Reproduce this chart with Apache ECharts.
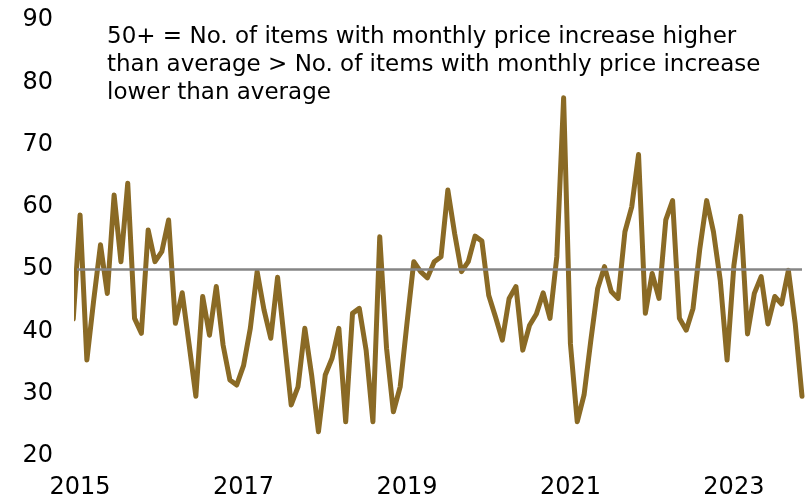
<!DOCTYPE html>
<html>
<head>
<meta charset="utf-8">
<script src="https://cdn.jsdelivr.net/npm/echarts@6/dist/echarts.min.js"></script>
<style>html,body{margin:0;padding:0;background:#fff}#c{width:811px;height:500px}</style>
</head>
<body>
<div id="c"></div>
<script>
// Month offsets from Jan 2015 (-1 = Dec 2014, partially visible at left edge)
const monthIndex = [];
for (let i = -1; i <= 106; i++) monthIndex.push(i);

// Index values (Dec 2014 .. Nov 2023)
const values = [
  42,
  58.7, 35.4, 45, 53.9, 46.1, 61.9, 51.2, 63.8, 42.1, 39.7, 56.3, 51.2,
  52.8, 57.9, 41.3, 46.2, 38, 29.6, 45.6, 39.4, 47.2, 37.8, 32.2, 31.4,
  34.5, 40.5, 49.6, 43.5, 38.9, 48.7, 38.5, 28.2, 31.1, 40.5, 33, 23.9,
  33, 35.7, 40.5, 25.5, 42.9, 43.7, 37, 25.5, 55.2, 37.3, 27.1, 31.1,
  41.3, 51.2, 49.6, 48.6, 51.2, 52, 62.7, 55.7, 49.6, 51.2, 55.3, 54.5,
  45.8, 42.3, 38.6, 45.3, 47.2, 37, 41, 42.8, 46.2, 42.1, 52, 77.5,
  38, 25.5, 29.8, 38.6, 46.9, 50.4, 46.4, 45.3, 56, 60, 68.4, 42.9,
  49.3, 45.3, 57.9, 61, 42.1, 40.2, 43.7, 53.3, 61, 56, 48.2, 35.4,
  50.6, 58.5, 39.6, 46.1, 48.8, 41.2, 45.6, 44.4, 49.8, 41.3, 29.6
];

const tickMonths = [0, 24, 48, 72, 96];
const tickLabels = ['2015', '2017', '2019', '2021', '2023'];
const referenceLevel = 50;
const noteText = '50+ = No. of items with monthly price increase higher\nthan average > No. of items with monthly price increase\nlower than average';

const seriesData = monthIndex.map((m, k) => [m, values[k]]);

const chart = echarts.init(document.getElementById('c'), null, {renderer: 'canvas'});
const font = 'DejaVu Sans';
chart.setOption({
  animation: false,
  backgroundColor: '#ffffff',
  textStyle: {fontFamily: font},
  grid: {left: 77, right: 9, top: 20, bottom: 44, containLabel: false},
  xAxis: {
    type: 'value',
    min: -0.45,
    max: 106,
    axisLine: {show: false},
    axisTick: {show: false},
    splitLine: {show: false},
    axisLabel: {
      customValues: tickMonths,
      formatter: v => tickLabels[tickMonths.indexOf(Math.round(v))] || '',
      color: '#000',
      fontFamily: font,
      fontSize: 24,
      margin: 20,
      showMinLabel: true,
      showMaxLabel: true
    }
  },
  yAxis: {
    type: 'value',
    min: 20,
    max: 90,
    interval: 10,
    axisLine: {show: false},
    axisTick: {show: false},
    splitLine: {show: false},
    axisLabel: {color: '#000', fontFamily: font, fontSize: 24, margin: 24}
  },
  graphic: [{
    type: 'text',
    left: 107,
    top: 23,
    style: {text: noteText, fontFamily: font, fontSize: 23, lineHeight: 28, fill: '#000'}
  }],
  series: [{
    type: 'line',
    data: seriesData,
    symbol: 'none',
    clip: true,
    lineStyle: {color: '#8A6A25', width: 5, cap: 'round', join: 'round'},
    markLine: {
      silent: true,
      symbol: 'none',
      z: 10,
      label: {show: false},
      lineStyle: {color: '#858585', width: 2.5, type: 'solid'},
      data: [{yAxis: referenceLevel}]
    }
  }]
});
</script>
</body>
</html>
